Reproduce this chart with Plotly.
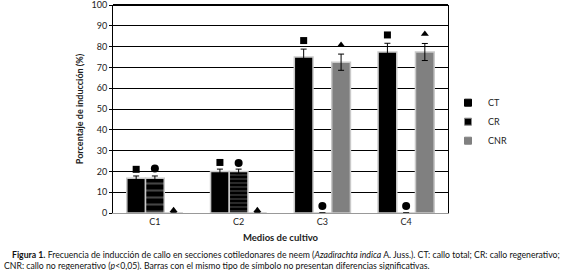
import plotly.graph_objects as go

categories = ["C1", "C2", "C3", "C4"]
series = ["CT", "CR", "CNR"]
ct_vals = [16.7, 20.0, 75.0, 77.4]
ct_err = [1.1, 1.1, 3.8, 4.2]
cr_vals = [16.7, 20.0, 0, 0]
cr_err = [1.1, 1.1, 0, 0]
cnr_vals = [0, 0, 72.5, 77.4]
cnr_err = [0, 0, 3.9, 4.1]
sq_y = [21.0, 24.3, 82.9, 85.6]
circ_y = [21.4, 24.0, 3.4, 3.4]
tri_y = [1.3, 1.3, 80.8, 86.0]
y_ticks = list(range(0, 101, 10))

group_w = 0.67
w = group_w / 3
idx = list(range(len(categories)))

def xs(j):
    return [i + (j - 1) * w for i in idx]

fig = go.Figure()
line = dict(color="#c9c9c9", width=1.5)
errstyle = dict(type="data", visible=True, color="black", thickness=1, width=3)

fig.add_trace(go.Bar(name="CT", x=xs(0), y=ct_vals, width=w, marker=dict(color="black", line=line),
                     error_y=dict(array=ct_err, **errstyle), showlegend=False))
fig.add_trace(go.Bar(name="CR", x=xs(1), y=cr_vals, width=w,
                     marker=dict(color="black", line=line,
                                 pattern=dict(shape="-", fgcolor="#8a8a8a", bgcolor="black",
                                              size=[7, 4, 5, 5], solidity=0.3)),
                     error_y=dict(array=cr_err, **errstyle), showlegend=False))
fig.add_trace(go.Bar(name="CNR", x=xs(2), y=cnr_vals, width=w, marker=dict(color="#808080", line=line),
                     error_y=dict(array=cnr_err, **errstyle), showlegend=False))

fig.add_trace(go.Scatter(x=xs(0), y=sq_y, mode="markers", showlegend=False,
                         marker=dict(symbol="square", size=7, color="black")))
fig.add_trace(go.Scatter(x=xs(1), y=circ_y, mode="markers", showlegend=False,
                         marker=dict(symbol="circle", size=8, color="black")))
fig.add_trace(go.Scatter(x=xs(2), y=tri_y, mode="markers", showlegend=False,
                         marker=dict(symbol="triangle-up", size=7, color="black")))

legend_colors = ["black", "black", "#808080"]
legend_lines = ["black", "#8a8a8a", "#808080"]
for name, col, lc in zip(series, legend_colors, legend_lines):
    fig.add_trace(go.Scatter(x=[None], y=[None], mode="markers", name=name,
                             marker=dict(symbol="square", size=7, color=col,
                                         line=dict(color=lc, width=1))))

font = "Lato, 'Open Sans', sans-serif"
fig.update_layout(
    width=578, height=270,
    margin=dict(l=113, r=130, t=5, b=57),
    paper_bgcolor="white", plot_bgcolor="white",
    font=dict(family=font, size=9, color="#222"),
    showlegend=True,
    legend=dict(x=1.0, y=0.60, xanchor="left", yanchor="top", font=dict(size=9),
                bgcolor="rgba(0,0,0,0)", itemwidth=30, tracegroupgap=0),
    xaxis=dict(range=[-0.5, 3.5], tickvals=idx, ticktext=categories, showgrid=False,
               showline=True, linecolor="#999", linewidth=1, ticks="", zeroline=False,
               title=dict(text="<b>Medios de cultivo</b>", font=dict(size=9.5), standoff=8),
               tickfont=dict(size=9)),
    yaxis=dict(range=[0, 100], tickvals=y_ticks, automargin=False, ticklabeloverflow="allow",
               showgrid=True, gridcolor="black", gridwidth=1,
               showline=True, linecolor="black", linewidth=1, mirror=True,
               ticks="outside", ticklen=3, tickcolor="black", zeroline=False,
               title=dict(text="<b>Porcentaje de inducción (%)</b>", font=dict(size=9), standoff=6),
               tickfont=dict(size=9)),
)
fig.add_shape(type="line", xref="paper", yref="paper", x0=0, x1=1, y0=1, y1=1,
              line=dict(color="black", width=2))

cap1 = ("<b>Figura 1.</b> Frecuencia de inducción de callo en secciones cotiledonares de neem "
        "(<i>Azadirachta indica</i> A. Juss.). CT: callo total; CR: callo regenerativo;")
cap2 = ("CNR: callo no regenerativo (<i>p</i><0,05). Barras con el mismo tipo de símbolo no "
        "presentan diferencias significativas.")
capfont = dict(size=8.7, family="'Liberation Sans Narrow', Lato, sans-serif", color="#111")
fig.add_annotation(text=cap1, xref="paper", yref="paper", x=(10 - 113) / 335, y=-(254 - 213) / 208,
                   xanchor="left", yanchor="middle", showarrow=False, font=capfont)
fig.add_annotation(text=cap2, xref="paper", yref="paper", x=(2 - 113) / 335, y=-(265 - 213) / 208,
                   xanchor="left", yanchor="middle", showarrow=False, font=capfont)

fig.write_html("out.html", config={"displayModeBar": False},
               post_script="document.body.style.margin='0';")
